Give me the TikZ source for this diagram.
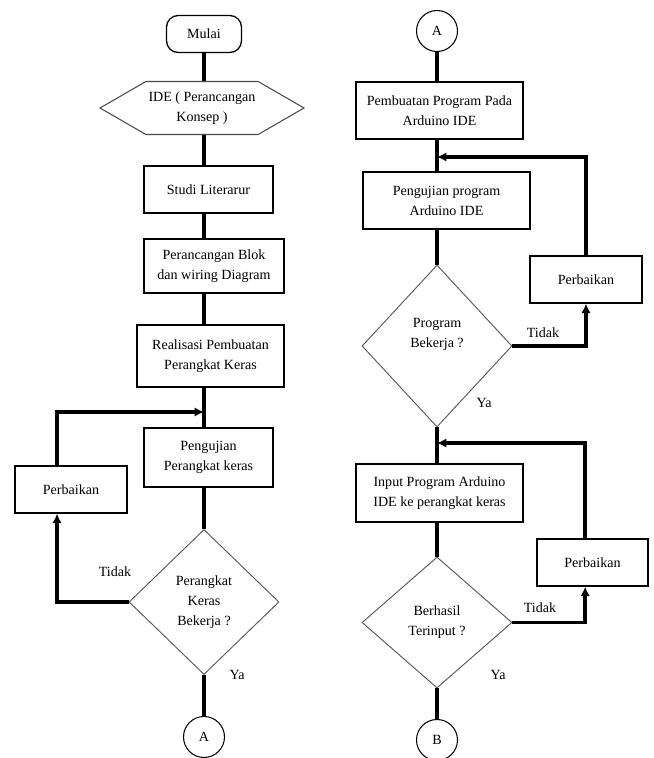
\documentclass[tikz,border=0pt]{standalone}
\usepackage{fontspec}
\setmainfont{Liberation Serif}
\usepackage{tikz}
\usetikzlibrary{shapes.geometric, shapes.symbols, arrows.meta, positioning, backgrounds}
\tikzstyle{startstop} = [rectangle, rounded corners=10pt, minimum width=2.25cm, minimum height=1.11cm, text centered, draw=black, fill=white, line width=1.1pt]
\tikzstyle{prep} = [signal, signal to=west and east, signal pointer angle=60, minimum width=6.12cm, minimum height=1.59cm, inner sep=0pt, align=center, draw=black!70, fill=white, line width=0.9pt]
\tikzstyle{process} = [rectangle, minimum height=1.41cm, inner sep=2pt, align=center, draw=black, fill=white, line width=1.1pt]
\tikzstyle{decision} = [diamond, minimum width=4.5cm, inner sep=0pt, align=center, draw=black!65, fill=white, line width=0.8pt]
\tikzstyle{connector} = [circle, minimum size=1.23cm, inner sep=0pt, draw=black, fill=white, line width=0.9pt]
\tikzstyle{line} = [line width=3pt]
\tikzstyle{arrow} = [line width=3pt, -{Latex[length=8pt,width=8pt]}]

\begin{document}
\begin{tikzpicture}[x=0.03cm, y=-0.03cm, font=\fontsize{12}{17}\selectfont]
\useasboundingbox (0,0) rectangle (654,758);

% Left column
\node (mulai) [startstop] at (204,34) {Mulai};
\node (ide) [prep] at (202,108) {IDE ( Perancangan\\Konsep )};
\node (studi) [process, minimum width=3.87cm] at (208.5,189.5) {Studi Literarur};
\node (blok) [process, minimum width=4.2cm, minimum height=1.62cm] at (214,266) {Perancangan Blok\\dan wiring Diagram};
\node (realisasi) [process, minimum width=4.41cm, minimum height=1.86cm] at (210.5,356) {Realisasi Pembuatan\\Perangkat Keras};
\node (ujiHw) [process, minimum width=3.87cm, minimum height=1.77cm] at (208.5,457.5) {Pengujian\\Perangkat keras};
\node (perbHw) [process, minimum width=3.36cm] at (71,489.5) {Perbaikan};
\node (cekHw) [decision, minimum height=4.35cm] at (204,602) {Perangkat\\Keras\\Bekerja ?};
\node (conA) [connector] at (204,737) {A};
\coordinate (jHw) at (204,412);
\node (tidakHw) at (115,572) {Tidak};
\node (yaHw) at (237,675) {Ya};

% Right column
\node (conB) [connector] at (437,31) {A};
\node (buat) [process, minimum width=5.01cm, minimum height=1.71cm] at (439.5,110.5) {Pembuatan Program Pada\\Arduino IDE};
\node (ujiPr) [process, minimum width=5.01cm, minimum height=1.71cm] at (446.5,200.5) {Pengujian program\\Arduino IDE};
\node (cekPr) [decision, minimum height=4.86cm] at (437,346) {Program\\Bekerja ?\\[6pt]};
\node (perbPr) [process, minimum width=3.36cm] at (586,279.5) {Perbaikan};
\coordinate (jPr) at (437,157);
\node (tidakPr) at (543,333) {Tidak};
\node (yaPr) at (484,403) {Ya};

\node (input) [process, minimum width=5.01cm, minimum height=1.74cm] at (439.5,493) {Input Program Arduino\\IDE ke perangkat keras};
\node (cekIn) [decision, minimum height=3.93cm] at (437,622.5) {Berhasil\\Terinput ?};
\node (perbIn) [process, minimum width=3.33cm] at (592.5,562.5) {Perbaikan};
\coordinate (jIn) at (437,443);
\node (tidakIn) at (540,608) {Tidak};
\node (yaIn) at (498,675) {Ya};
\node (conC) [connector] at (437,740) {B};

% Connectors behind the shapes
\begin{scope}[on background layer]
\draw [line] (mulai) -- (jHw) -- (cekHw.north);
\draw [line] (cekHw.south) -- (conA.north);
\draw [arrow] ([xshift=-0.42cm]perbHw.north) |- (jHw);
\draw [arrow] (cekHw.west) -| ([xshift=-0.42cm]perbHw.south);

\draw [line] (conB.south) -- (jPr) -- (cekPr.north);
\draw [arrow] (perbPr.north) |- (jPr);
\draw [arrow] (cekPr.east) -| (perbPr.south);
\draw [line] (cekPr.south) -- (jIn) -- (cekIn.north);
\draw [arrow] ([xshift=-0.22cm]perbIn.north) |- (jIn);
\draw [arrow] (cekIn.east) -| ([xshift=-0.22cm]perbIn.south);
\draw [line] (cekIn.south) -- (conC.north);
\end{scope}
\end{tikzpicture}
\end{document}
